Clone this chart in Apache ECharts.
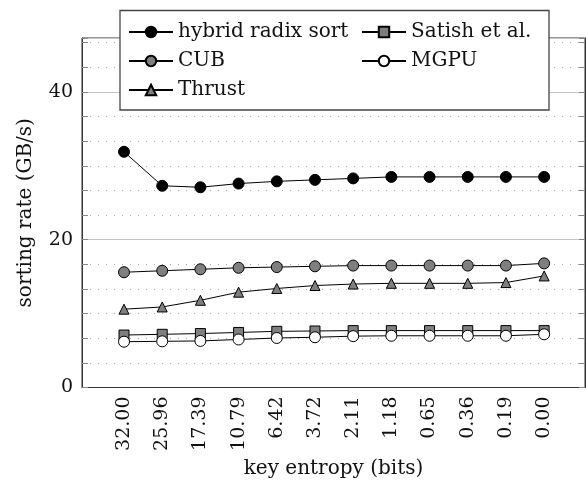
<!DOCTYPE html>
<html>
<head>
<meta charset="utf-8">
<script src="https://cdn.jsdelivr.net/npm/echarts@6/dist/echarts.min.js"></script>
<style>
  html, body { margin: 0; padding: 0; background: #fff; }
  #chart { width: 586px; height: 491px; }
</style>
</head>
<body>
<div id="chart"></div>
<script>
// key entropy (bits), one category per column
var entropy = ["32.00", "25.96", "17.39", "10.79", "6.42", "3.72", "2.11", "1.18", "0.65", "0.36", "0.19", "0.00"]
// sorting rate (GB/s)
var hybrid = [31.9, 27.3, 27.1, 27.6, 27.9, 28.1, 28.3, 28.5, 28.5, 28.5, 28.5, 28.5]
var cub = [15.6, 15.8, 16.0, 16.2, 16.3, 16.4, 16.5, 16.5, 16.5, 16.5, 16.5, 16.8]
var thrust = [10.6, 10.9, 11.8, 12.9, 13.4, 13.8, 14.0, 14.1, 14.1, 14.1, 14.2, 15.1]
var satish = [7.1, 7.2, 7.3, 7.45, 7.6, 7.65, 7.7, 7.7, 7.7, 7.7, 7.7, 7.7]
var mgpu = [6.2, 6.25, 6.3, 6.5, 6.7, 6.8, 6.95, 7.0, 7.0, 7.0, 7.0, 7.2]
var yTicks = [0, 20, 40]

var font = "DejaVu Serif"

function pts(arr) {
  return arr.map(function (v, i) { return [i, v] })
}

function makeSeries(name, data, symbol, size, fill) {
  return {
    name: name,
    type: "line",
    data: pts(data),
    symbol: symbol,
    symbolSize: size,
    showAllSymbol: true,
    lineStyle: { color: "#000", width: 1 },
    itemStyle: { color: fill, borderColor: "#000", borderWidth: 1 }
  }
}

var legendText = { fontFamily: font, fontSize: 20, lineHeight: 20, color: "#111" }

var chart = echarts.init(document.getElementById("chart"), null, { renderer: "canvas" })
chart.setOption({
  animation: false,
  textStyle: { fontFamily: font },
  grid: { left: 82, right: 1, top: 38, bottom: 103.5, show: true, borderColor: "#333", borderWidth: 1 },
  graphic: [{
    type: "rect",
    z: 10,
    shape: { x: 120, y: 10.5, width: 429, height: 99.5 },
    style: { fill: "#fff", stroke: "#444", lineWidth: 1.3 }
  }],
  legend: [
    {
      z: 20, orient: "vertical", left: 123, top: 17, itemWidth: 44, itemHeight: 13, itemGap: 9,
      data: ["hybrid radix sort", "CUB", "Thrust"],
      textStyle: legendText
    },
    {
      z: 20, orient: "vertical", left: 356, top: 17, itemWidth: 44, itemHeight: 13, itemGap: 9,
      data: ["Satish et al.", "MGPU"],
      textStyle: legendText
    }
  ],
  xAxis: {
    type: "value",
    min: -1.1,
    max: 12.07,
    name: "key entropy (bits)",
    nameLocation: "middle",
    nameGap: 67,
    nameTextStyle: { fontFamily: font, fontSize: 20, color: "#111" },
    axisLine: { show: true, onZero: false, lineStyle: { color: "#333" } },
    axisTick: { show: false },
    splitLine: { show: false },
    axisLabel: {
      customValues: entropy.map(function (e, i) { return i }),
      rotate: 90,
      margin: 9,
      fontFamily: font,
      fontSize: 19,
      color: "#111",
      formatter: function (v) { return entropy[Math.round(v)] }
    }
  },
  yAxis: [
    {
      type: "value", min: 0, max: 47.3, interval: 10 / 3, position: "left",
      name: "sorting rate (GB/s)",
      nameLocation: "middle",
      nameGap: 46,
      nameTextStyle: { fontFamily: font, fontSize: 20, color: "#111" },
      axisLine: { show: true, onZero: false, lineStyle: { color: "#333" } },
      axisTick: { show: true, inside: true, length: 6, lineStyle: { color: "#888" } },
      splitLine: { show: true, lineStyle: { color: "#aaa", type: [1, 7], width: 1 } },
      axisLabel: {
        margin: 9, fontFamily: font, fontSize: 19, color: "#111",
        formatter: function (v) {
          for (var i = 0; i < yTicks.length; i++) {
            if (Math.abs(v - yTicks[i]) < 0.05) return String(yTicks[i])
          }
          return ""
        }
      }
    },
    {
      type: "value", min: 0, max: 47.3, interval: 10 / 3, position: "right",
      axisLine: { show: true, onZero: false, lineStyle: { color: "#333" } },
      axisTick: { show: true, inside: true, length: 6, lineStyle: { color: "#888" } },
      splitLine: { show: false },
      axisLabel: { show: false }
    },
    {
      type: "value", min: 0, max: 47.3, interval: 20, position: "left",
      axisLine: { show: false, onZero: false },
      axisTick: { show: false },
      axisLabel: { show: false },
      splitLine: { show: true, lineStyle: { color: "#c4c4c4", width: 1.2 } }
    }
  ],
  series: [
    makeSeries("hybrid radix sort", hybrid, "circle", 11, "#000"),
    makeSeries("CUB", cub, "circle", 11, "#7f7f7f"),
    makeSeries("Thrust", thrust, "triangle", 10, "#7f7f7f"),
    makeSeries("Satish et al.", satish, "rect", 10, "#7f7f7f"),
    makeSeries("MGPU", mgpu, "circle", 11, "#fff")
  ]
})
</script>
</body>
</html>
